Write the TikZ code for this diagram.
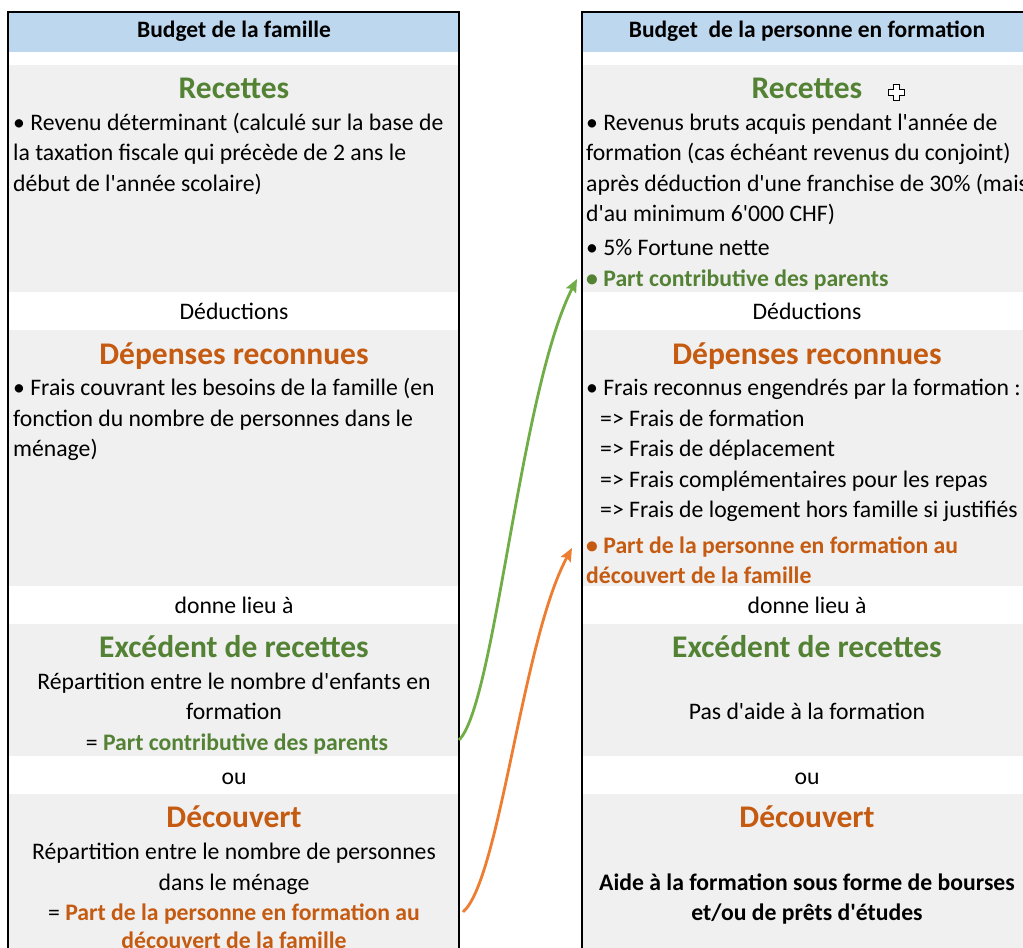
\documentclass[tikz,border=0pt]{standalone}
\usepackage{fontspec}
\setmainfont{Carlito}
\newfontfamily\calfont{Carlito}
\usetikzlibrary{arrows.meta}
\definecolor{hdrblue}{HTML}{BDD7EE}
\definecolor{cellgray}{HTML}{F0F0F0}
\definecolor{txtgreen}{HTML}{548235}
\definecolor{txtorange}{HTML}{C55A11}
\definecolor{arrgreen}{HTML}{70AD47}
\definecolor{arrorange}{HTML}{ED7D31}
\begin{document}
\begin{tikzpicture}[x=1pt,y=-1pt,
  bodyfont/.style={font=\calfont\fontsize{23.7}{28}\selectfont},
  boldfont/.style={font=\calfont\bfseries\fontsize{23.7}{28}\selectfont},
  body/.style={bodyfont, inner sep=0pt, text height=18pt, text depth=2pt},
  lbody/.style={body, anchor=west},
  cbody/.style={body, anchor=center},
  hdr/.style={font=\calfont\bfseries\fontsize{23.5}{28}\selectfont, inner sep=0pt, text height=19pt, text depth=2pt},
  heading/.style={font=\calfont\bfseries\fontsize{31.5}{36}\selectfont, inner sep=0pt, text height=23pt, text depth=2pt},
  greenh/.style={heading, text=txtgreen},
  orangeh/.style={heading, text=txtorange},
  band/.style={fill=cellgray, draw=none},
  hband/.style={fill=hdrblue, draw=none},
  frame/.style={draw=black, line width=1.3pt},
  link/.style={line width=2.8pt, -{Stealth[length=13pt,width=11pt,inset=2pt]}},
]
\useasboundingbox (0,0) rectangle (1023,948);
\clip (0,0) rectangle (1023,948);
\fill[white] (0,0) rectangle (1023,948);

% ---------- left panel ----------
\fill[hband] (9,13) rectangle (459,52);
\fill[band] (9,65) rectangle (459,292);
\fill[band] (9,330) rectangle (459,586);
\fill[band] (9,624) rectangle (459,756);
\fill[band] (9,794) rectangle (459,960);
\draw[frame] (8,970) -- (8,12) -- (459,12) -- (459,970);

% ---------- right panel ----------
\fill[hband] (583,13) rectangle (1030,52);
\fill[band] (583,65) rectangle (1030,292);
\fill[band] (583,330) rectangle (1030,586);
\fill[band] (583,624) rectangle (1030,756);
\fill[band] (583,794) rectangle (1030,960);
\draw[frame] (582,970) -- (582,12) -- (1040,12);

% ---------- left texts ----------
\node[hdr] (lhdr) at (234,29) {Budget de la famille};
\node[greenh] (lrec) at (234,88) {Recettes};
\node[lbody] (lr1) at (13,122) {• Revenu déterminant (calculé sur la base de};
\node[lbody] (lr2) at (13,152) {la taxation fiscale qui précède de 2 ans le};
\node[lbody] (lr3) at (13,183) {début de l'année scolaire)};
\node[cbody] (lded) at (234,311) {Déductions};
\node[orangeh] (ldep) at (234,354) {Dépenses reconnues};
\node[lbody] (ld1) at (13,387) {• Frais couvrant les besoins de la famille (en};
\node[lbody] (ld2) at (13,418) {fonction du nombre de personnes dans le};
\node[lbody] (ld3) at (13,448) {ménage)};
\node[cbody] (ldon) at (234,605) {donne lieu à};
\node[greenh] (lexc) at (234,647) {Excédent de recettes};
\node[cbody] (le1) at (234,681) {Répartition entre le nombre d'enfants en};
\node[cbody] (le2) at (234,711) {formation};
\node[cbody] (le3) at (237,742) {= \textbf{\textcolor{txtgreen}{Part contributive des parents}}};
\node[cbody] (lou) at (234,776) {ou};
\node[orangeh] (ldec) at (234,817) {Découvert};
\node[cbody] (lc1) at (234,851) {Répartition entre le nombre de personnes};
\node[cbody] (lc2) at (234,882) {dans le ménage};
\node[cbody] (lc3) at (234,912) {= \textbf{\textcolor{txtorange}{Part de la personne en formation au}}};
\node[cbody, boldfont, text=txtorange] (lc4) at (234,940) {découvert de la famille};

% ---------- right texts ----------
\node[hdr] (rhdr) at (807,29) {Budget\ \ de la personne en formation};
\node[greenh] (rrec) at (807,88) {Recettes};
\node[lbody] (rr1) at (586,122) {• Revenus bruts acquis pendant l'année de};
\node[lbody] (rr2) at (586,152) {formation (cas échéant revenus du conjoint)};
\node[lbody] (rr3) at (586,183) {après déduction d'une franchise de 30\% (mais};
\node[lbody] (rr4) at (586,213) {d'au minimum 6'000 CHF)};
\node[lbody] (rr5) at (586,247) {• 5\% Fortune nette};
\node[lbody, boldfont, text=txtgreen] (rr6) at (586,278) {• Part contributive des parents};
\node[cbody] (rded) at (807,311) {Déductions};
\node[orangeh] (rdep) at (807,354) {Dépenses reconnues};
\node[lbody] (rd1) at (586,387) {• Frais reconnus engendrés par la formation :};
\node[lbody] (rd2) at (600,418) {=> Frais de formation};
\node[lbody] (rd3) at (600,448) {=> Frais de déplacement};
\node[lbody] (rd4) at (600,479) {=> Frais complémentaires pour les repas};
\node[lbody] (rd5) at (600,509) {=> Frais de logement hors famille si justifiés};
\node[lbody, boldfont, text=txtorange] (rd6) at (586,545) {• Part de la personne en formation au};
\node[lbody, boldfont, text=txtorange] (rd7) at (586,575) {découvert de la famille};
\node[cbody] (rdon) at (807,605) {donne lieu à};
\node[greenh] (rexc) at (807,647) {Excédent de recettes};
\node[cbody] (re1) at (807,711) {Pas d'aide à la formation};
\node[cbody] (rou) at (807,776) {ou};
\node[orangeh] (rdec) at (807,817) {Découvert};
\node[cbody, boldfont] (rc1) at (807,882) {Aide à la formation sous forme de bourses};
\node[cbody, boldfont] (rc2) at (807,912) {et/ou de prêts d'études};

% ---------- cursor icon ----------
\draw[fill=white, draw=black, line width=0.6pt, line join=miter]
  (893,84) -- (899,84) -- (899,89) -- (904,89) -- (904,95) -- (899,95) -- (899,100)
  -- (893,100) -- (893,95) -- (888,95) -- (888,89) -- (893,89) -- cycle;

% ---------- connectors ----------
\coordinate (gstart) at (459,740);
\coordinate (gend) at (577,279);
\coordinate (ostart) at (463,912);
\coordinate (oend) at (572,548);
\draw[link, arrgreen] (gstart) .. controls (495,705) and (520,390) .. (gend);
\draw[link, arrorange] (ostart) .. controls (500,880) and (522,640) .. (oend);
\end{tikzpicture}
\end{document}
